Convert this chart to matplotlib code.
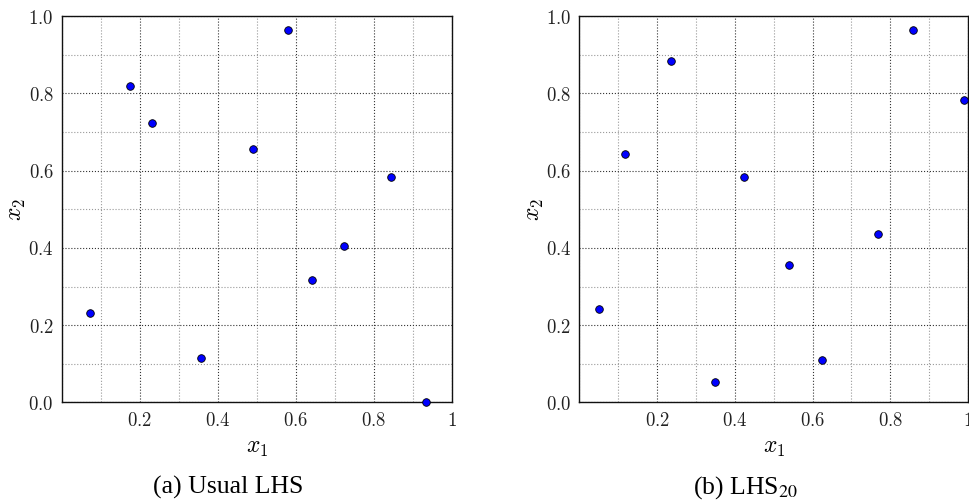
import numpy as np
import matplotlib
matplotlib.use('Agg')
import matplotlib.pyplot as plt
from matplotlib.ticker import MultipleLocator, FixedLocator, FixedFormatter

plt.rcParams['mathtext.fontset'] = 'cm'
plt.rcParams['axes.unicode_minus'] = False

# Usual LHS design (10 points)
usual_x1 = [0.072, 0.175, 0.232, 0.357, 0.491, 0.581, 0.642, 0.723, 0.844, 0.934]
usual_x2 = [0.232, 0.819, 0.722, 0.114, 0.655, 0.965, 0.316, 0.404, 0.583, 0.000]

# LHS_20 design (10 points)
lhs20_x1 = [0.051, 0.118, 0.235, 0.348, 0.423, 0.540, 0.624, 0.769, 0.858, 0.989]
lhs20_x2 = [0.241, 0.642, 0.883, 0.052, 0.584, 0.356, 0.109, 0.435, 0.963, 0.782]

x_ticks = [0.2, 0.4, 0.6, 0.8, 1.0]
x_tick_labels = ['$0.2$', '$0.4$', '$0.6$', '$0.8$', '$1$']
y_ticks = [0.0, 0.2, 0.4, 0.6, 0.8, 1.0]
y_tick_labels = ['$0.0$', '$0.2$', '$0.4$', '$0.6$', '$0.8$', '$1.0$']

captions = ['(a) Usual LHS', '(b) LHS$_{20}$']


def draw_design(ax, xs, ys):
    ax.set_xlim(0, 1)
    ax.set_ylim(0, 1)
    ax.xaxis.set_major_locator(FixedLocator(x_ticks))
    ax.xaxis.set_major_formatter(FixedFormatter(x_tick_labels))
    ax.yaxis.set_major_locator(FixedLocator(y_ticks))
    ax.yaxis.set_major_formatter(FixedFormatter(y_tick_labels))
    ax.xaxis.set_minor_locator(MultipleLocator(0.1))
    ax.yaxis.set_minor_locator(MultipleLocator(0.1))
    ax.grid(which='major', linestyle=':', color='#333333', linewidth=0.8)
    ax.grid(which='minor', linestyle=':', color='#999999', linewidth=0.8)
    ax.tick_params(which='both', length=0, labelsize=13.5, pad=6, colors='#222222')
    for sp in ax.spines.values():
        sp.set_linewidth(1.0)
        sp.set_color('#111111')
    ax.set_axisbelow(True)
    ax.scatter(xs, ys, s=30, c='#0000ff', edgecolors='black', linewidths=0.6,
               zorder=3, clip_on=False)
    ax.set_xlabel('$x_1$', fontsize=17, labelpad=4)
    ax.set_ylabel('$x_2$', fontsize=17, labelpad=0)


fig = plt.figure(figsize=(9.69, 5.03), dpi=100)
ax1 = fig.add_axes([0.064, 0.2, 0.402, 0.768])
ax2 = fig.add_axes([0.598, 0.2, 0.401, 0.768])

draw_design(ax1, usual_x1, usual_x2)
draw_design(ax2, lhs20_x1, lhs20_x2)

fig.text(0.2355, 0.03, captions[0], ha='center', va='center', fontsize=18.5,
         family='Liberation Serif', math_fontfamily='stix')
fig.text(0.769, 0.03, captions[1], ha='center', va='center', fontsize=18.5,
         family='Liberation Serif', math_fontfamily='stix')

fig.savefig('out.png', dpi=100)
